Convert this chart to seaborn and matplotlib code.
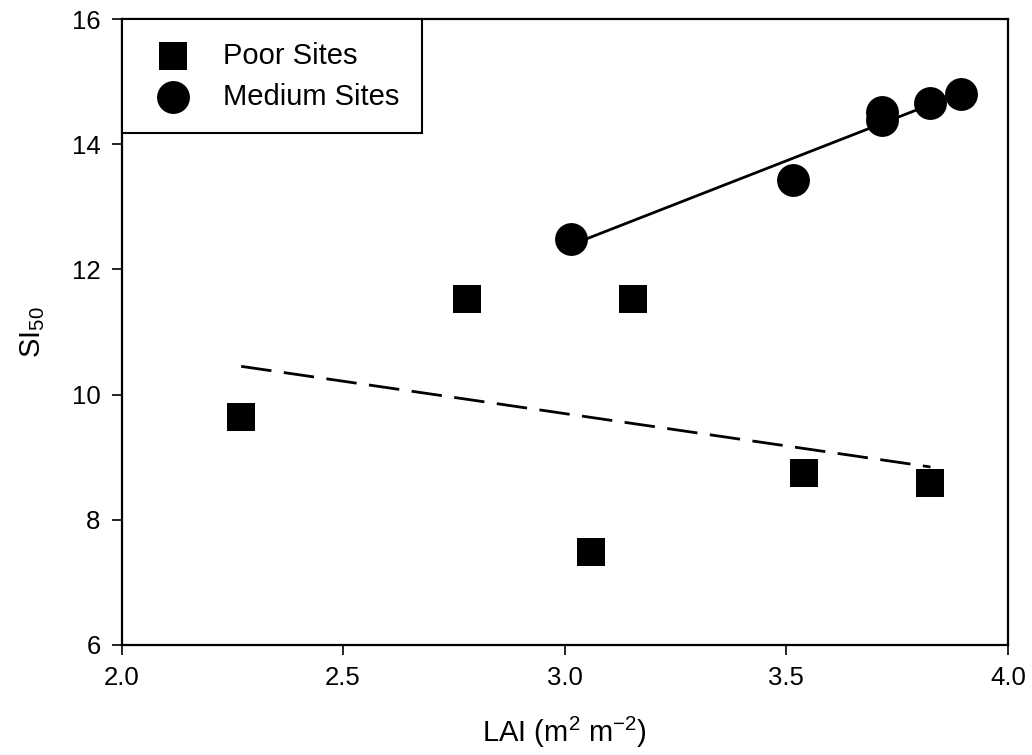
import matplotlib
matplotlib.use("Agg")
import matplotlib.pyplot as plt
import seaborn as sns
import pandas as pd

# Data
poor_lai = [2.27, 2.78, 3.155, 3.06, 3.54, 3.825]
poor_si = [9.64, 11.53, 11.53, 7.49, 8.75, 8.59]
medium_lai = [3.015, 3.515, 3.715, 3.715, 3.825, 3.895]
medium_si = [12.49, 13.43, 14.52, 14.39, 14.66, 14.80]
series_labels = ["Poor Sites", "Medium Sites"]
x_ticks = [2.0, 2.5, 3.0, 3.5, 4.0]
y_ticks = [6, 8, 10, 12, 14, 16]

sns.set_style("ticks")
plt.rcParams["font.family"] = ["Liberation Sans", "DejaVu Sans"]
plt.rcParams["mathtext.fontset"] = "custom"
plt.rcParams["mathtext.rm"] = "Liberation Sans"
plt.rcParams["mathtext.it"] = "Liberation Sans:italic"
plt.rcParams["mathtext.bf"] = "Liberation Sans:bold"
plt.rcParams["text.color"] = "black"
plt.rcParams["axes.labelcolor"] = "black"
plt.rcParams["xtick.color"] = "black"
plt.rcParams["ytick.color"] = "black"

poor = pd.DataFrame({"LAI": poor_lai, "SI": poor_si})
medium = pd.DataFrame({"LAI": medium_lai, "SI": medium_si})

fig = plt.figure(figsize=(10.32, 7.55), dpi=100)
ax = fig.add_axes([121.5 / 1032, 1 - 645 / 755, (1008 - 121.5) / 1032, (645 - 19) / 755])

sns.regplot(data=poor, x="LAI", y="SI", scatter=False, ci=None, truncate=True, ax=ax,
            line_kws=dict(color="black", lw=2.0, dashes=(11, 4.5)))
sns.regplot(data=medium, x="LAI", y="SI", scatter=False, ci=None, truncate=True, ax=ax,
            line_kws=dict(color="black", lw=2.0))

sns.scatterplot(data=poor, x="LAI", y="SI", marker="s", s=400, color="black",
                edgecolor="black", linewidth=0, label=series_labels[0], ax=ax, zorder=3)
sns.scatterplot(data=medium, x="LAI", y="SI", marker="o", s=560, color="black",
                edgecolor="black", linewidth=0, label=series_labels[1], ax=ax, zorder=3)

ax.set_xlim(2.0, 4.0)
ax.set_ylim(6, 16)
ax.set_xticks(x_ticks)
ax.set_xticklabels([f"{v:.1f}" for v in x_ticks])
ax.set_yticks(y_ticks)
ax.set_yticklabels([str(v) for v in y_ticks])
ax.tick_params(axis="both", direction="out", length=7, width=1.2, colors="black",
               labelcolor="black", labelsize=18.5)
ax.tick_params(axis="x", pad=8)
ax.tick_params(axis="y", pad=8)
for sp in ax.spines.values():
    sp.set_visible(True)
    sp.set_color("black")
    sp.set_linewidth(1.6)

ax.set_xlabel("LAI (m$^{2}$ m$^{\\mathrm{-2}}$)", fontsize=21, labelpad=18, color="black")
ax.set_ylabel("SI$_{50}$", fontsize=21, labelpad=18, color="black")

leg = ax.legend(loc="upper left", fontsize=21, frameon=True, fancybox=False,
                borderaxespad=0, borderpad=0.78, labelspacing=0.44,
                handlelength=2.0, handletextpad=0.7, markerscale=1.0)
for t in leg.get_texts():
    t.set_color("black")
leg.get_frame().set_edgecolor("black")
leg.get_frame().set_linewidth(1.5)
leg.get_frame().set_alpha(1)

fig.savefig("out.png", dpi=100, facecolor="white")
